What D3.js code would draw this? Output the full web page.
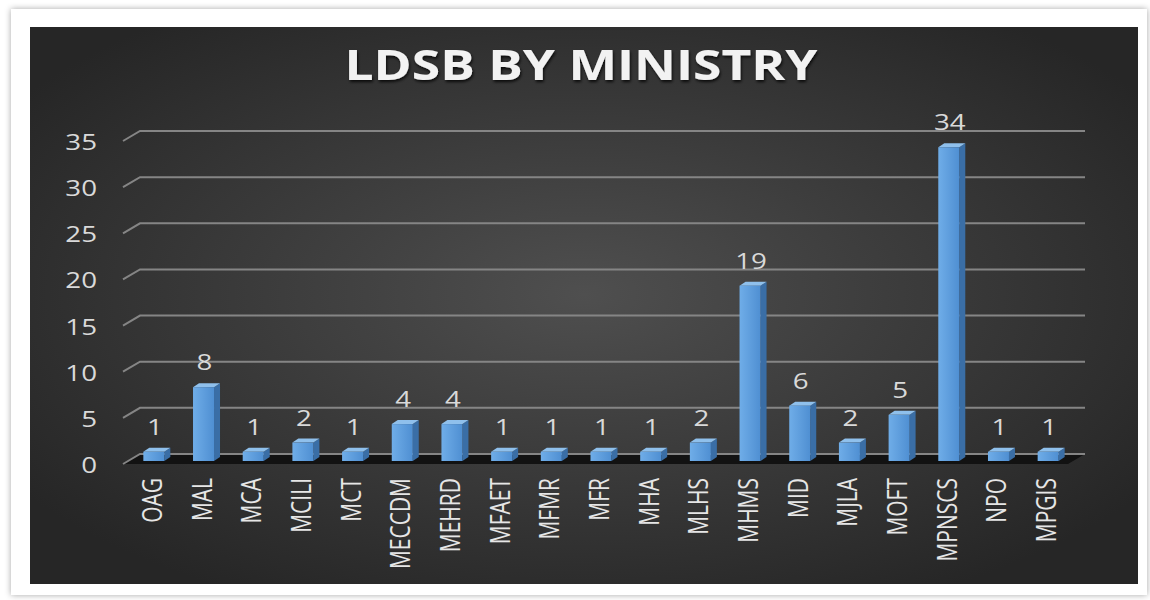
<!DOCTYPE html>
<html lang="en">
<head>
<meta charset="UTF-8">
<title>LDSB by Ministry</title>
<script src="https://d3js.org/d3.v7.min.js"></script>
<style>
  html, body { margin: 0; padding: 0; background: #fff; }
  svg { display: block; font-family: "Open Sans", "DejaVu Sans", sans-serif; }
</style>
</head>
<body>
<div class="chartContainer"></div>
<script>
// Data
const categories = ['OAG','MAL','MCA','MCILI','MCT','MECCDM','MEHRD','MFAET','MFMR','MFR',
                    'MHA','MLHS','MHMS','MID','MJLA','MOFT','MPNSCS','NPO','MPGIS'];
const values = [1, 8, 1, 2, 1, 4, 4, 1, 1, 1, 1, 2, 19, 6, 2, 5, 34, 1, 1];
const yTicks = [0, 5, 10, 15, 20, 25, 30, 35];
const title = 'LDSB BY MINISTRY';

const width = 1150, height = 600;
// 原圖文字被橫向拉寬
const stretch = 1.32;

const svg = d3.select('.chartContainer')
  .append('svg')
  .attr('width', width)
  .attr('height', height);

const defs = svg.append('defs');

// 背景漸層
const bg = defs.append('radialGradient')
  .attr('id', 'bgGrad')
  .attr('cx', '50%').attr('cy', '48%').attr('r', '62%');
bg.append('stop').attr('offset', '0%').attr('stop-color', '#4f4f4f');
bg.append('stop').attr('offset', '100%').attr('stop-color', '#262626');

const front = defs.append('linearGradient')
  .attr('id', 'barFront')
  .attr('x1', '0%').attr('x2', '100%').attr('y1', '0%').attr('y2', '0%');
front.append('stop').attr('offset', '0%').attr('stop-color', '#6fade8');
front.append('stop').attr('offset', '100%').attr('stop-color', '#4f8fd2');

const shadow = defs.append('filter').attr('id', 'frameShadow')
  .attr('x', '-5%').attr('y', '-5%').attr('width', '110%').attr('height', '110%');
shadow.append('feDropShadow')
  .attr('dx', 0).attr('dy', 0).attr('stdDeviation', 3)
  .attr('flood-color', '#000').attr('flood-opacity', 0.35);

const titleShadow = defs.append('filter').attr('id', 'titleShadow');
titleShadow.append('feDropShadow')
  .attr('dx', 1).attr('dy', 2).attr('stdDeviation', 1.5)
  .attr('flood-color', '#000').attr('flood-opacity', 0.8);

// 外框與面板
svg.append('rect')
  .attr('x', 11).attr('y', 9).attr('width', 1136).attr('height', 586)
  .attr('fill', '#fff')
  .attr('filter', 'url(#frameShadow)');

svg.append('rect')
  .attr('x', 30).attr('y', 27).attr('width', 1108).attr('height', 557)
  .attr('fill', 'url(#bgGrad)');

// 比例尺
const x = d3.scaleBand()
  .domain(categories)
  .range([129, 1073]);

const y = d3.scaleLinear()
  .domain([0, 35])
  .range([454, 131]);

// 3D 深度
const depthX = 17, depthY = 10;
const wallLeft = 140, wallRight = 1085;

// 地板
svg.append('path')
  .attr('d', `M${wallLeft - depthX},${y(0) + depthY} L${wallRight - depthX},${y(0) + depthY}
              L${wallRight},${y(0)} L${wallLeft},${y(0)} Z`)
  .attr('fill', '#121212');

// 格線
const grid = svg.append('g').attr('class', 'grid');
grid.selectAll('path')
  .data(yTicks)
  .enter()
  .append('path')
  .attr('d', d => `M${wallLeft - depthX},${y(d) + depthY} L${wallLeft},${y(d)} L${wallRight},${y(d)}`)
  .attr('fill', 'none')
  .attr('stroke', '#858585')
  .attr('stroke-width', 2);

// Y 軸標籤
svg.append('g')
  .selectAll('text')
  .data(yTicks)
  .enter()
  .append('text')
  .attr('transform', d => `translate(97,${y(d) + 19}) scale(${stretch},1)`)
  .attr('text-anchor', 'end')
  .style('font-size', '21px')
  .style('fill', '#d9d9d9')
  .text(d => d);

// 柱子
const barW = 21, sideW = 6, topH = 4, baseOff = 7;
const bars = svg.append('g')
  .selectAll('g')
  .data(categories.map((c, i) => ({ item: c, value: values[i] })))
  .enter()
  .append('g')
  .attr('class', 'bar');

const cx = d => x(d.item) + x.bandwidth() / 2;
const left = d => cx(d) - barW / 2;
const topY = d => y(d.value) + baseOff;
const baseY = y(0) + baseOff;

// side
bars.append('path')
  .attr('d', d => `M${left(d) + barW},${topY(d)} L${left(d) + barW + sideW},${topY(d) - topH}
                   L${left(d) + barW + sideW},${baseY - topH} L${left(d) + barW},${baseY} Z`)
  .attr('fill', '#3a6ea6');
// top
bars.append('path')
  .attr('d', d => `M${left(d)},${topY(d)} L${left(d) + sideW},${topY(d) - topH}
                   L${left(d) + barW + sideW},${topY(d) - topH} L${left(d) + barW},${topY(d)} Z`)
  .attr('fill', '#8fc0ec');
// front
bars.append('rect')
  .attr('x', d => left(d))
  .attr('y', d => topY(d))
  .attr('width', barW)
  .attr('height', d => baseY - topY(d))
  .attr('fill', 'url(#barFront)');

// 數值標籤
bars.append('text')
  .attr('transform', d => `translate(${cx(d) + 1},${topY(d) - 17}) scale(${stretch},1)`)
  .attr('text-anchor', 'middle')
  .style('font-size', '21px')
  .style('fill', '#d9d9d9')
  .text(d => d.value);

// X 軸標籤
svg.append('g')
  .selectAll('text')
  .data(categories)
  .enter()
  .append('text')
  .attr('transform', d => `translate(${x(d) + x.bandwidth() / 2 + 8},478) scale(${stretch},1) rotate(-90)`)
  .attr('text-anchor', 'end')
  .style('font-size', '21px')
  .style('fill', '#e6e6e6')
  .text(d => d);

// 標題
svg.append('text')
  .attr('x', 581)
  .attr('y', 80)
  .attr('text-anchor', 'middle')
  .attr('textLength', 473)
  .attr('lengthAdjust', 'spacingAndGlyphs')
  .attr('filter', 'url(#titleShadow)')
  .style('font-size', '42px')
  .style('font-weight', 'bold')
  .style('fill', '#f2f2f2')
  .text(title);
</script>
</body>
</html>
